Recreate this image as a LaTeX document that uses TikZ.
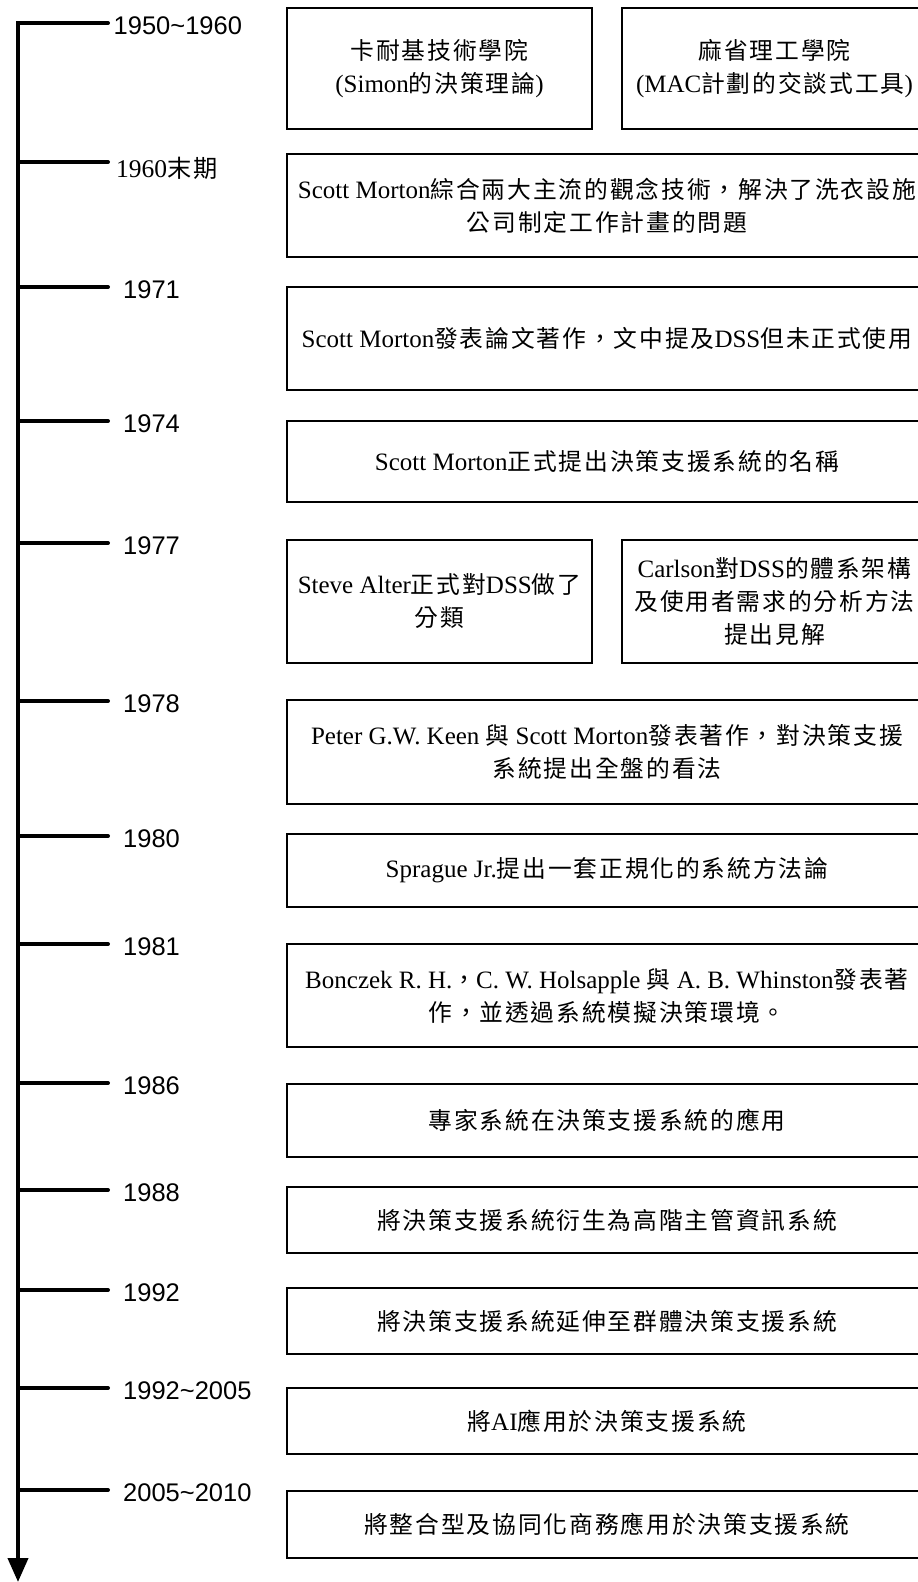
\documentclass[tikz,border=0pt]{standalone}
\usepackage{fontspec}
\setmainfont{Liberation Serif}
\newfontfamily\arialfont{Liberation Sans}
\newfontfamily\cjkfont[Scale=0.95,LetterSpace=8]{Noto Sans CJK TC}
\usetikzlibrary{arrows.meta}
\newXeTeXintercharclass\CJKcls
\makeatletter
\newcommand\SetCJKRange[2]{%
  \@tempcnta=#1\relax
  \loop
    \XeTeXcharclass\@tempcnta=\CJKcls
  \ifnum\@tempcnta<#2\relax
    \advance\@tempcnta\@ne
  \repeat}
\SetCJKRange{"3000}{"303F}
\SetCJKRange{"4E00}{"9FFF}
\SetCJKRange{"FF00}{"FFEF}
\makeatother
\XeTeXinterchartoks 0 \CJKcls = {\cjkfont}
\XeTeXinterchartoks 4095 \CJKcls = {\cjkfont}
\XeTeXinterchartoks \CJKcls 0 = {\rmfamily}
\XeTeXinterchartoks \CJKcls 4095 = {\rmfamily}
\tikzset{
  axisline/.style={line width=4pt, line cap=round, line join=miter},
  tickline/.style={line width=4pt, line cap=round},
  yearlbl/.style={font=\arialfont\fontsize{25.5}{30}\selectfont, anchor=base west, inner sep=0pt},
  evbox/.style={draw, line width=1.8pt, font=\fontsize{25}{33}\selectfont, align=center, inner sep=0pt},
  widebox/.style={evbox, minimum width=640pt},
  halfbox/.style={evbox, minimum width=305pt},
}
\begin{document}
\XeTeXinterchartokenstate=1
\begin{tikzpicture}[x=1pt,y=-1pt]
\useasboundingbox (0,0) rectangle (918,1582);
\fill[white] (0,0) rectangle (918,1582);
\clip (0,0) rectangle (918,1582);

% axis coordinates
\foreach \n/\y in {1/23,2/162,3/287,4/421,5/543,6/701,7/836,8/944,9/1083,10/1190,11/1290,12/1388,13/1490}{
  \coordinate (a\n) at (18,\y);
  \coordinate (t\n) at (108,\y);
}
\coordinate (axend) at (18,1582);

\draw[axisline, -{Triangle[width=20pt,length=24pt]}] (t1) -- (a1) -- (axend);
\foreach \n in {2,...,13} \draw[tickline] (a\n) -- (t\n);

% year labels
\node[yearlbl] (y1) at (113.5,34) {1950\textasciitilde1960};
\node[yearlbl, font=\fontsize{25.5}{30}\selectfont] (y2) at (116,177) {1960末期};
\node[yearlbl] (y3) at (123,298) {1971};
\node[yearlbl] (y4) at (123,432) {1974};
\node[yearlbl] (y5) at (123,554) {1977};
\node[yearlbl] (y6) at (123,712) {1978};
\node[yearlbl] (y7) at (123,847) {1980};
\node[yearlbl] (y8) at (123,955) {1981};
\node[yearlbl] (y9) at (123,1094) {1986};
\node[yearlbl] (y10) at (123,1201) {1988};
\node[yearlbl] (y11) at (123,1301) {1992};
\node[yearlbl] (y12) at (123,1399) {1992\textasciitilde2005};
\node[yearlbl] (y13) at (123,1501) {2005\textasciitilde2010};

% event boxes
\node[halfbox, minimum height=121pt] (b1a) at (439.5,68.5) {卡耐基技術學院\\(Simon的決策理論)};
\node[halfbox, minimum height=121pt] (b1b) at (774.5,68.5) {麻省理工學院\\(MAC計劃的交談式工具)};
\node[widebox, minimum height=103pt] (b2) at (607,205.5) {Scott Morton綜合兩大主流的觀念技術，解決了洗衣設施\\公司制定工作計畫的問題};
\node[widebox, minimum height=103pt] (b3) at (607,338.5) {Scott Morton發表論文著作，文中提及DSS但未正式使用};
\node[widebox, minimum height=81pt] (b4) at (607,461.5) {Scott Morton正式提出決策支援系統的名稱};
\node[halfbox, minimum height=123pt] (b5a) at (439.5,601.5) {Steve Alter正式對DSS做了\\分類};
\node[halfbox, minimum height=123pt] (b5b) at (774.5,601.5) {Carlson對DSS的體系架構\\及使用者需求的分析方法\\提出見解};
\node[widebox, minimum height=104pt] (b6) at (607,752) {Peter G.W. Keen 與 Scott Morton發表著作，對決策支援\\系統提出全盤的看法};
\node[widebox, minimum height=73pt] (b7) at (607,870.5) {Sprague Jr.提出一套正規化的系統方法論};
\node[widebox, minimum height=103pt] (b8) at (607,995.5) {Bonczek R. H.，C. W. Holsapple 與 A. B. Whinston發表著\\作，並透過系統模擬決策環境。};
\node[widebox, minimum height=73pt] (b9) at (607,1120.5) {專家系統在決策支援系統的應用};
\node[widebox, minimum height=66pt] (b10) at (607,1220) {將決策支援系統衍生為高階主管資訊系統};
\node[widebox, minimum height=66pt] (b11) at (607,1321) {將決策支援系統延伸至群體決策支援系統};
\node[widebox, minimum height=66pt] (b12) at (607,1421) {將AI應用於決策支援系統};
\node[widebox, minimum height=67pt] (b13) at (607,1524.5) {將整合型及協同化商務應用於決策支援系統};
\end{tikzpicture}
\end{document}
